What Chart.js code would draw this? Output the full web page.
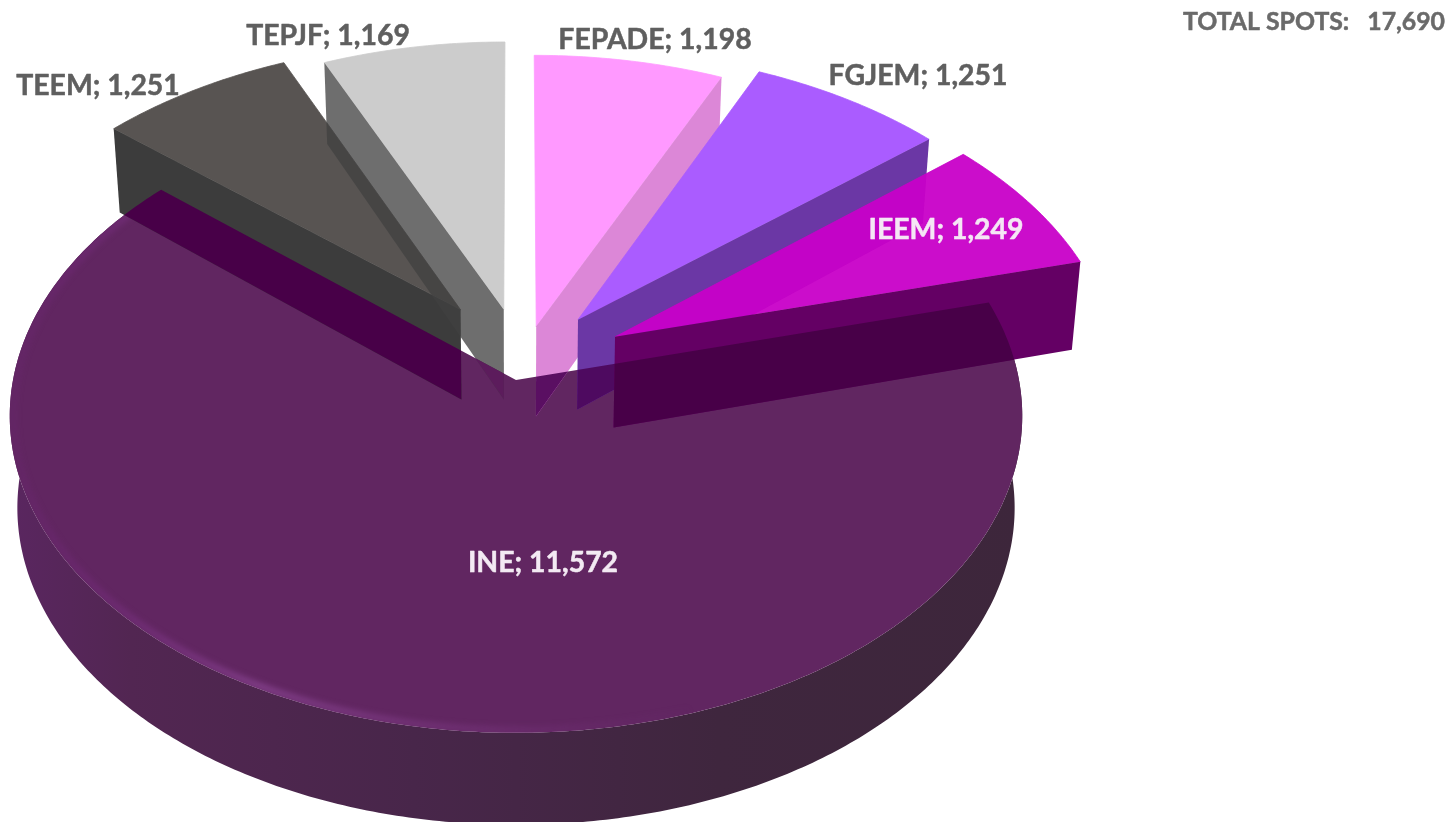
<!DOCTYPE html>
<html>
<head>
<meta charset="utf-8">
<style>
html,body{margin:0;padding:0;background:#fff;overflow:hidden}
canvas{display:block;filter:blur(0.7px)}
</style>
<script src="https://cdn.jsdelivr.net/npm/chart.js@4"></script>
</head>
<body>
<canvas id="c" width="1449" height="822"></canvas>
<script>
// Data
const categories = ["FEPADE", "FGJEM", "IEEM", "INE", "TEEM", "TEPJF"];
const spots = [1198, 1251, 1249, 11572, 1251, 1169];
const totalLabel = "TOTAL SPOTS:   17,690";

// Styles
const topColors  = ["#FF99FF", "#AA5CFF", "rgba(200,0,200,0.95)", "#612661", "#585452", "#CCCCCC"];
const wallColors = ["#DC87D7", "#6B37A5", "#640064", "#4A2A4C", "#3C3C3C", "rgba(64,64,64,0.76)"];
const overINE    = ["#5A0F62", "#4E0A60", "#480048", null, "#480048", "#5C1C5C"];
const shiftU = [0.041, 0.126, 0.200, 0, -0.113, -0.025];
const shiftV = [0.175, 0.197, 0.140, 0, 0.230, 0.230];
const radiusU = [1.012, 1.012, 1.005, 1, 1.012, 1.005];
const wallEdge = ["end", "end", "end", null, "start", "start"];
const labelX = [655, 918, 946, 543, 98, 328];
const labelY = [40, 76, 230, 563, 86, 36];
const labelColor = ["#5F5F5F", "#5F5F5F", "#F5E6F5", "#F3EAF3", "#5F5F5F", "#5F5F5F"];
const drawOrder = [3, 4, 5, 0, 1, 2];

// Projection of the flat pie plane
const cx = 516, cy = 380, A = 503, B = 313, persp = 0.113, depth = 92, shrink = 0.985;
function project(u, v, low) {
  const s = 1 / (1 + persp * v);
  let x = cx + A * u * s, y = cy - B * v * s;
  if (low) { x = cx + (x - cx) * shrink; y += Math.min(depth, depth * s); }
  return [x, y];
}
function rimPoint(theta, i, low, inset) {
  const r = inset || 1;
  return project(r * radiusU[i] * Math.sin(theta) + shiftU[i], r * Math.cos(theta) + shiftV[i], low);
}
function sweep(path, t0, t1, i, low, inset) {
  const n = Math.max(8, Math.ceil(Math.abs(t1 - t0) * 90));
  for (let k = 0; k <= n; k++) {
    const p = rimPoint(t0 + (t1 - t0) * k / n, i, low, inset);
    path.lineTo(p[0], p[1]);
  }
}

const pie3d = {
  id: "pie3d",
  beforeDatasetDraw(chart) {
    const ctx = chart.ctx;
    const arcs = chart.getDatasetMeta(0).data;
    const ang = arcs.map(a => [a.startAngle + Math.PI / 2, a.endAngle + Math.PI / 2]);
    const topPath = i => {
      const path = new Path2D(), c = project(shiftU[i], shiftV[i], false);
      path.moveTo(c[0], c[1]);
      sweep(path, ang[i][0], ang[i][1], i, false);
      path.closePath();
      return path;
    };
    const ineIdx = categories.indexOf("INE");
    const ineTop = topPath(ineIdx);

    ctx.save();
    // INE rim wall
    const side = new Path2D();
    const s0 = rimPoint(ang[ineIdx][0], ineIdx, false);
    side.moveTo(s0[0], s0[1]);
    sweep(side, ang[ineIdx][0], ang[ineIdx][1], ineIdx, false);
    sweep(side, ang[ineIdx][1], ang[ineIdx][0], ineIdx, true);
    side.closePath();
    const g = ctx.createLinearGradient(10, 0, 1022, 0);
    g.addColorStop(0, "#5A2660");
    g.addColorStop(0.12, "#522652");
    g.addColorStop(0.4, "#48264A");
    g.addColorStop(0.7, "#3F263E");
    g.addColorStop(1, "#3D263B");
    ctx.fillStyle = g;
    ctx.fill(side);

    // INE top face and soft bevel highlight
    ctx.fillStyle = topColors[ineIdx];
    ctx.fill(ineTop);
    ctx.save();
    ctx.clip(ineTop);
    const rim = new Path2D();
    const r0 = rimPoint(ang[ineIdx][1], ineIdx, false, 0.993);
    rim.moveTo(r0[0], r0[1]);
    sweep(rim, ang[ineIdx][1], Math.PI * 0.9, ineIdx, false, 0.993);
    const hl = ctx.createLinearGradient(10, 0, 720, 0);
    hl.addColorStop(0, "rgba(112,38,124,0.25)");
    hl.addColorStop(0.1, "rgba(122,44,132,0.5)");
    hl.addColorStop(0.35, "rgba(142,72,152,0.95)");
    hl.addColorStop(0.7, "rgba(128,58,136,0.45)");
    hl.addColorStop(1, "rgba(110,45,115,0)");
    ctx.strokeStyle = hl;
    ctx.lineWidth = 5;
    ctx.filter = "blur(3px)";
    ctx.stroke(rim);
    ctx.restore();

    // Exploded slices
    drawOrder.forEach(i => {
      if (i === ineIdx) return;
      const a = wallEdge[i] === "start" ? ang[i][0] : ang[i][1];
      const p1 = project(shiftU[i], shiftV[i], false);
      const p2 = rimPoint(a, i, false);
      const p3 = rimPoint(a, i, true);
      const p4 = project(shiftU[i], shiftV[i], true);
      const wall = new Path2D();
      wall.moveTo(p1[0], p1[1]);
      wall.lineTo(p2[0], p2[1]);
      wall.lineTo(p3[0], p3[1]);
      wall.lineTo(p4[0], p4[1]);
      wall.closePath();
      const face = topPath(i);
      ctx.fillStyle = topColors[i];
      ctx.strokeStyle = topColors[i];
      ctx.lineWidth = 0.8;
      ctx.fill(face);
      ctx.stroke(face);
      ctx.fillStyle = wallColors[i];
      ctx.fill(wall);
      ctx.save();
      ctx.clip(ineTop);
      ctx.fillStyle = overINE[i];
      ctx.fill(wall);
      ctx.restore();
    });
    ctx.restore();
    return false;
  },
  afterDatasetsDraw(chart) {
    const ctx = chart.ctx;
    ctx.save();
    ctx.textBaseline = "middle";
    ctx.textAlign = "center";
    ctx.lineJoin = "round";
    ctx.font = "bold 28.4px Lato, Carlito, sans-serif";
    ctx.lineWidth = 0.5;
    categories.forEach((name, i) => {
      const t = name + "; " + spots[i].toLocaleString("en-US");
      ctx.fillStyle = labelColor[i];
      ctx.strokeStyle = labelColor[i];
      ctx.fillText(t, labelX[i], labelY[i]);
      ctx.strokeText(t, labelX[i], labelY[i]);
    });
    ctx.textAlign = "right";
    ctx.font = "bold 24.8px Lato, Carlito, sans-serif";
    ctx.fillStyle = "#6A6A6A";
    ctx.strokeStyle = "#6A6A6A";
    ctx.fillText(totalLabel, 1445, 22);
    ctx.strokeText(totalLabel, 1445, 22);
    ctx.restore();
  }
};

new Chart(document.getElementById("c"), {
  type: "pie",
  data: {
    labels: categories,
    datasets: [{ data: spots, backgroundColor: topColors, borderWidth: 0 }]
  },
  options: {
    responsive: false,
    animation: false,
    events: [],
    plugins: { legend: { display: false }, tooltip: { enabled: false } }
  },
  plugins: [pie3d]
});
</script>
</body>
</html>
